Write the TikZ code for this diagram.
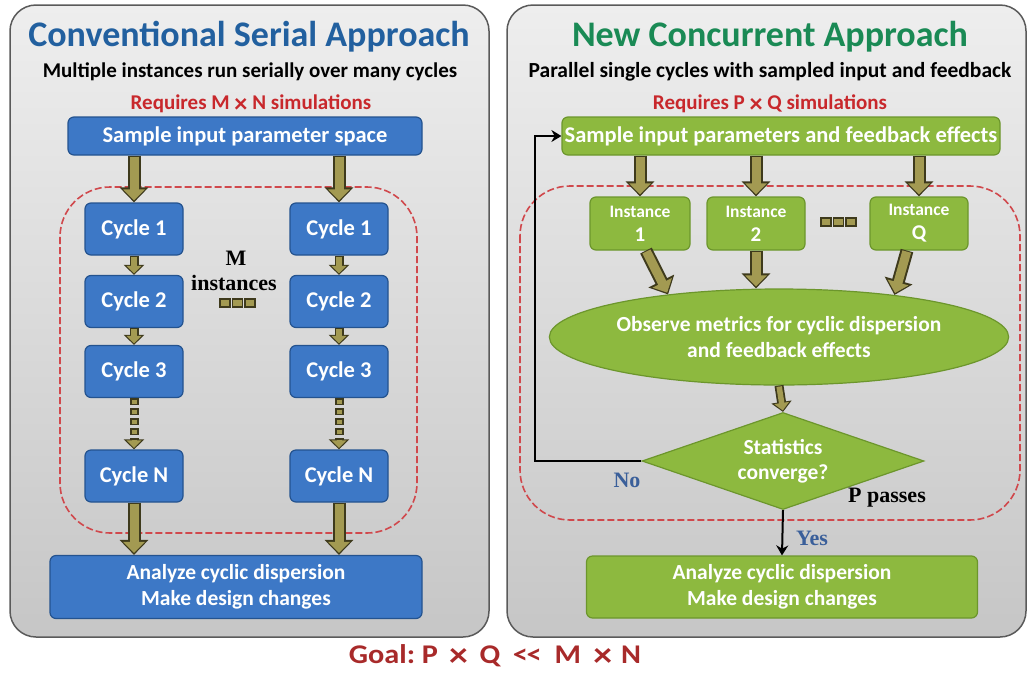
\documentclass[tikz,border=0pt]{standalone}
\usepackage{fontspec}
\setmainfont{Carlito}
\newfontfamily\serifb{Liberation Serif}
\usetikzlibrary{arrows.meta,shapes.geometric}
\definecolor{paneltop}{HTML}{EEEEEE}
\definecolor{panelbot}{HTML}{C6C6C6}
\definecolor{panelline}{HTML}{5A5A5A}
\definecolor{bluefill}{HTML}{3D78C6}
\definecolor{blueline}{HTML}{24538F}
\definecolor{greenfill}{HTML}{8DB93F}
\definecolor{greenline}{HTML}{6C962C}
\definecolor{titleblue}{HTML}{22609F}
\definecolor{titlegreen}{HTML}{1A8A55}
\definecolor{reqred}{HTML}{C8282C}
\definecolor{goalred}{HTML}{A82A2A}
\definecolor{arrowfill}{HTML}{A39A52}
\definecolor{arrowdark}{HTML}{3E3A1C}
\definecolor{labelblue}{HTML}{3A5F9A}
\newcommand{\bigtimes}{\raisebox{-0.12em}{\scalebox{1.25}{×}}}
\begin{document}
\begin{tikzpicture}[x=1pt,y=-1pt,
  panel/.style={draw=panelline, line width=1.5pt, rounded corners=26pt, top color=paneltop, bottom color=panelbot},
  reddash/.style={draw=reqred!85, dash pattern=on 7pt off 3pt, line width=1.6pt, rounded corners=50pt},
  bluebox/.style={draw=blueline, line width=1.2pt, fill=bluefill, rounded corners=6pt, text=white, font=\bfseries\fontsize{22.5}{26}\selectfont, align=center, inner sep=2pt},
  greenbox/.style={draw=greenline, line width=1.2pt, fill=greenfill, rounded corners=6pt, text=white, font=\bfseries\fontsize{22.5}{26}\selectfont, align=center, inner sep=2pt},
  bigarrow/.style={draw=arrowdark, line width=13pt, -{Triangle[width=28pt,length=15pt]},
     postaction={draw=arrowfill, line width=9pt, -{Triangle[width=21pt,length=11pt]}, shorten >=2pt, shorten <=1pt}},
  smallarrow/.style={draw=arrowdark, line width=9pt, -{Triangle[width=20pt,length=10pt]},
     postaction={draw=arrowfill, line width=5.5pt, -{Triangle[width=14.5pt,length=7.5pt]}, shorten >=1.5pt, shorten <=1pt}},
  dotarrow/.style={draw=arrowdark, line width=9pt, dash pattern=on 7pt off 3pt, -{Triangle[width=20pt,length=10pt]},
     postaction={draw=arrowfill, line width=5pt, dash pattern=on 4pt off 6pt, dash phase=8.5pt, -{Triangle[width=14.5pt,length=7.5pt]}, shorten >=1.5pt}},
  sq/.style={draw=arrowdark, line width=1.2pt, fill=arrowfill, minimum width=10pt, minimum height=8pt, inner sep=0pt},
  feedback/.style={draw=black, line width=2pt, -{Stealth[width=12pt,length=10pt]}},
  serlabel/.style={font=\serifb\bfseries\fontsize{22}{24}\selectfont, inner sep=0pt}
]
\useasboundingbox (0,0) rectangle (1028,673);
% panels
\path[panel] (10,5) rectangle (489,637);
\path[panel] (507,5) rectangle (1026,637);

% ---------------- left panel ----------------
\node[text=titleblue, font=\bfseries\fontsize{36}{40}\selectfont] (titleL) at (249,37) {Conventional Serial Approach};
\node[font=\bfseries\fontsize{21}{24}\selectfont] (subL) at (250,72) {Multiple instances run serially over many cycles};
\node[text=reqred, font=\bfseries\fontsize{21}{24}\selectfont] (reqL) at (251,104) {Requires M \bigtimes\ N simulations};
\path[reddash] (60,187) rectangle (417,533);

\node[bluebox, minimum width=354pt, minimum height=38pt] (sampleL) at (245,136) {Sample input parameter space};
\node[bluebox, minimum width=98pt, minimum height=52pt] (c1L) at (134,229) {Cycle 1};
\node[bluebox, minimum width=98pt, minimum height=52pt] (c2L) at (134,301.5) {Cycle 2};
\node[bluebox, minimum width=98pt, minimum height=52pt] (c3L) at (134,371.5) {Cycle 3};
\node[bluebox, minimum width=98pt, minimum height=52pt] (cNL) at (134,476) {Cycle N};
\node[bluebox, minimum width=98pt, minimum height=52pt] (c1R) at (339,229) {Cycle 1};
\node[bluebox, minimum width=98pt, minimum height=52pt] (c2R) at (339,301.5) {Cycle 2};
\node[bluebox, minimum width=98pt, minimum height=52pt] (c3R) at (339,371.5) {Cycle 3};
\node[bluebox, minimum width=98pt, minimum height=52pt] (cNR) at (339,476) {Cycle N};
\node[bluebox, minimum width=372pt, minimum height=63pt, font=\bfseries\fontsize{21.5}{26}\selectfont] (analyzeL) at (236,587) {Analyze cyclic dispersion\\Make design changes};

\node[serlabel] (mL) at (236,258) {M};
\node[serlabel] (instL) at (234,283) {instances};
\node[sq] (sqL1) at (225,303) {};
\node[sq] (sqL2) at (237.5,303) {};
\node[sq] (sqL3) at (250,303) {};

\draw[bigarrow] (sampleL.south -| c1L) -- (c1L.north);
\draw[bigarrow] (sampleL.south -| c1R) -- (c1R.north);
\draw[smallarrow] (c1L.south) -- (c2L.north);
\draw[smallarrow] (c2L.south) -- (c3L.north);
\draw[smallarrow] (c1R.south) -- (c2R.north);
\draw[smallarrow] (c2R.south) -- (c3R.north);
\draw[dotarrow] (c3L.south) -- (cNL.north);
\draw[dotarrow] (c3R.south) -- (cNR.north);
\draw[bigarrow] (cNL.south) -- (cNL.south |- analyzeL.north);
\draw[bigarrow] (cNR.south) -- (cNR.south |- analyzeL.north);

% ---------------- right panel ----------------
\node[text=titlegreen, font=\bfseries\fontsize{36}{40}\selectfont] (titleR) at (770,37) {New Concurrent Approach};
\node[font=\bfseries\fontsize{21.5}{24}\selectfont] (subR) at (770,72) {Parallel single cycles with sampled input and feedback};
\node[text=reqred, font=\bfseries\fontsize{21}{24}\selectfont] (reqR) at (770,104) {Requires P \bigtimes\ Q simulations};
\path[reddash] (520,186) rectangle (1020,520);

\node[greenbox, minimum width=438pt, minimum height=38pt] (sampleR) at (781,136) {Sample input parameters and feedback effects};
\node[greenbox, minimum width=100pt, minimum height=53pt, font=\bfseries\fontsize{17.5}{24}\selectfont] (i1) at (640,223.5) {Instance\\{\fontsize{21}{20}\selectfont 1}};
\node[greenbox, minimum width=98pt, minimum height=53pt, font=\bfseries\fontsize{17.5}{24}\selectfont] (i2) at (756,223.5) {Instance\\{\fontsize{21}{20}\selectfont 2}};
\node[greenbox, minimum width=98pt, minimum height=53pt, font=\bfseries\fontsize{17.5}{24}\selectfont] (iQ) at (919,223.5) {Instance\\{\fontsize{21}{20}\selectfont Q}};
\node[sq] (sqR1) at (826,222) {};
\node[sq] (sqR2) at (838.5,222) {};
\node[sq] (sqR3) at (851,222) {};

\node[greenbox, ellipse, minimum width=392pt, minimum height=96pt, inner sep=0pt, font=\bfseries\fontsize{21.5}{26}\selectfont] (obs) at (779,337) {Observe metrics for cyclic dispersion\\and feedback effects};
\node[greenbox, diamond, aspect=2.9, rounded corners=0pt, minimum width=282pt, minimum height=97pt, inner sep=0pt, font=\bfseries\fontsize{21.5}{25}\selectfont] (conv) at (783,461) {Statistics\\converge?};
\node[greenbox, minimum width=391pt, minimum height=62pt, font=\bfseries\fontsize{21.5}{26}\selectfont] (analyzeR) at (782,587) {Analyze cyclic dispersion\\Make design changes};

\draw[bigarrow] (sampleR.south -| i1) -- (i1.north);
\draw[bigarrow] (sampleR.south -| i2) -- (i2.north);
\draw[bigarrow] (sampleR.south -| iQ) -- (iQ.north);
\draw[bigarrow] ([xshift=6pt]i1.south) -- (obs.159);
\draw[bigarrow] (i2.south) -- (i2.south |- obs.north);
\draw[bigarrow] ([xshift=-12pt]iQ.south) -- (obs.20);
\draw[smallarrow] (obs.south) -- (conv.north);

\coordinate (fb) at (535,461);
\draw[feedback] (conv.west) -- (fb) |- (sampleR.west);
\draw[feedback] (conv.south) -- (analyzeR.north);

\node[serlabel, text=labelblue] (no) at (627,480) {No};
\node[serlabel, text=labelblue] (yes) at (812,538) {Yes};
\node[serlabel] (pp) at (887,498) {P passes};

% goal
\node[text=goalred, font=\bfseries\fontsize{27}{29}\selectfont, anchor=base, inner sep=0pt] (goal) at (495,663) {\scalebox{1.12}[1]{Goal:\hspace{6pt}P\hspace{10pt}\bigtimes\hspace{10.5pt}Q\hspace{11pt}<\kern-1pt<\hspace{11.5pt}M\hspace{11pt}\bigtimes\hspace{8pt}N}};
\end{tikzpicture}
\end{document}
